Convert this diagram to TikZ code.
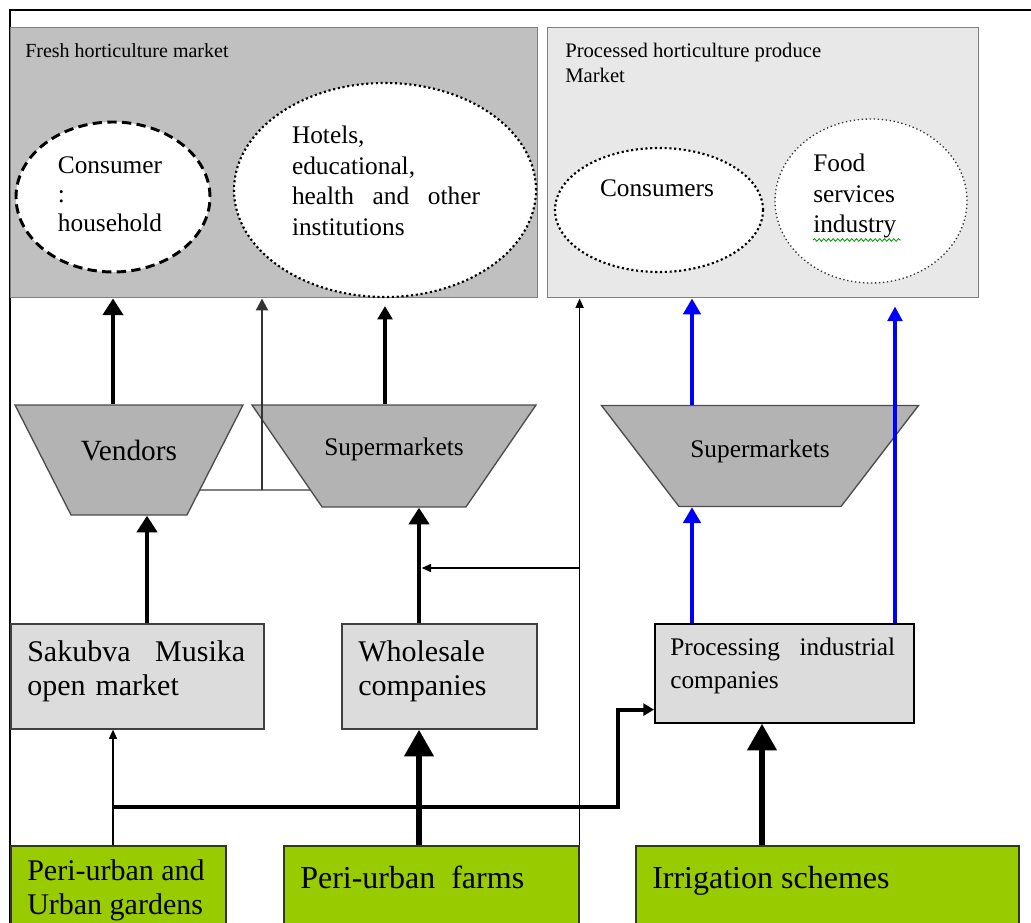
\documentclass[tikz,border=0pt]{standalone}
\usepackage{fontspec}
\setmainfont{Liberation Serif}
\usepackage{tikz}
\usetikzlibrary{arrows.meta,positioning,calc,shapes.geometric,decorations.pathmorphing,backgrounds}

\definecolor{freshgray}{HTML}{C0C0C0}
\definecolor{procgray}{HTML}{E8E8E8}
\definecolor{trapgray}{HTML}{B3B3B3}
\definecolor{boxgray}{HTML}{DCDCDC}
\definecolor{farmgreen}{HTML}{99CC00}

\tikzset{
  market/.style={rectangle, draw=gray, line width=1.1pt, anchor=north west, inner sep=0},
  txt/.style={inner sep=0, anchor=north west, align=left},
  outlet/.style={trapezium, draw=black!70, fill=trapgray, line width=1pt, shape border rotate=180,
                 trapezium stretches body, inner sep=0},
  box/.style={rectangle, draw=black!75, line width=1.2pt, fill=boxgray, anchor=north west, inner sep=0},
  src/.style={box, fill=farmgreen, draw=black!80},
  heavy/.style={line width=3.6pt, -{Triangle[length=12.5pt,width=15pt]}},
  huge/.style={line width=5pt, -{Triangle[length=20pt,width=21pt]}},
  medium/.style={line width=2.6pt, -{Triangle[length=10pt,width=11pt]}},
  joint/.style={black!80, line width=1.6pt, -{Triangle[length=9pt,width=9pt]}},
  light/.style={line width=1.1pt, -{Triangle[length=7pt,width=6pt]}},
  branch/.style={line width=3pt, -{Triangle[length=8pt,width=9pt]}},
  bluefat/.style={blue, line width=3.6pt, -{Triangle[length=12pt,width=13pt]}},
  bluethin/.style={blue, line width=2.6pt, -{Triangle[length=11pt,width=11pt]}},
}

\begin{document}
\begin{tikzpicture}[x=0.75pt, y=-0.75pt, font=\fontsize{19}{23}\selectfont]
  \clip (0,0) rectangle (1031,923);
  % frame
  \draw[line width=1.1pt] (10,923) -- (10,10) -- (1031,10);

  % the two markets
  \node[market, fill=freshgray, minimum width=395.25pt, minimum height=202.5pt] (fresh) at (10,27) {};
  \node[txt, font=\fontsize{15}{19}\selectfont] (freshlbl) at (25,43) {Fresh horticulture market};
  \node[market, fill=procgray, minimum width=323.25pt, minimum height=202.5pt] (pm) at (547,27) {};
  \node[txt, font=\fontsize{15.5}{19}\selectfont] (pmlbl) at (565,43) {Processed horticulture produce\\Market};

  % end users
  \node[ellipse, draw, fill=white, line width=2.2pt, dash pattern=on 7pt off 4pt,
        minimum width=145.5pt, minimum height=112.5pt, inner sep=0] (hh) at (113,197) {};
  \node[align=left, inner sep=0, font=\fontsize{19}{21.75}\selectfont] (hhtxt) at (110,194) {Consumer\\:\\household};
  \node[ellipse, draw, fill=white, line width=1.6pt, dotted,
        minimum width=226.5pt, minimum height=160.5pt, inner sep=0] (hotel) at (385,190) {};
  \node[txt, anchor=center, text width=141pt, font=\fontsize{19}{23}\selectfont] (hoteltxt) at (386,181)
    {Hotels,\\educational,\\health\hfill and\hfill other\\institutions};
  \node[ellipse, draw, fill=white, line width=1.6pt, dotted,
        minimum width=156pt, minimum height=93pt, inner sep=0] (cons) at (659,210) {};
  \node[inner sep=0] (constxt) at (657,188) {Consumers};
  \node[ellipse, draw=black!80, fill=white, line width=1pt, dotted,
        minimum width=144pt, minimum height=123pt, inner sep=0] (food) at (871,201) {};
  \node[txt, anchor=west, font=\fontsize{19}{23}\selectfont] (foodtxt) at (813,196) {Food\\services\\industry};
  \draw[green!60!black, line width=0.6pt, decorate, decoration={snake, amplitude=1pt, segment length=3.5pt}]
    (813,240) -- (901,240);

  % retail outlets (text height + depth give the full height, so the side angles hold)
  \node[outlet, trapezium left angle=63, trapezium right angle=63, minimum width=171pt,
        text height=41.85pt, text depth=40.65pt, font=\fontsize{22}{26}\selectfont] (vend) at (129,460) {Vendors};
  \node[outlet, trapezium left angle=55.5, trapezium right angle=55.5, minimum width=213pt,
        text height=37.95pt, text depth=38.55pt] (sup1) at (394,456) {Supermarkets};
  \node[outlet, trapezium left angle=52.5, trapezium right angle=52.5, minimum width=237.75pt,
        text height=39.1pt, text depth=36.65pt] (sup2) at (760,456) {Supermarkets};

  % markets and companies
  \node[box, minimum width=189.75pt, minimum height=78.75pt] (sak) at (10,623) {};
  \node[txt, text width=163.5pt, font=\fontsize{22.5}{26}\selectfont] (saktxt) at (27,640) {Sakubva\hfill Musika\\open market};
  \node[box, minimum width=146.25pt, minimum height=78.75pt] (ws) at (341,623) {};
  \node[txt, font=\fontsize{22.5}{26}\selectfont] (wstxt) at (358,640) {Wholesale\\companies};
  \node[box, draw=black, minimum width=194.25pt, minimum height=74.25pt] (proc) at (654,623) {};
  \node[txt, text width=168.75pt, font=\fontsize{19}{24.75}\selectfont] (proctxt) at (670,638) {Processing\hfill industrial\\companies};

  % producers
  \node[src, minimum width=161.25pt, minimum height=75pt] (gard) at (10,845) {};
  \node[txt, font=\fontsize{22.5}{26}\selectfont] (gardtxt) at (27,859) {Peri-urban and\\Urban gardens};
  \node[src, minimum width=221.25pt, minimum height=75pt] (farm) at (283,845) {};
  \node[txt, font=\fontsize{24}{28}\selectfont] (farmtxt) at (300,866) {Peri-urban\ \ farms};
  \node[src, minimum width=287.25pt, minimum height=75pt] (irr) at (635,845) {};
  \node[txt, font=\fontsize{24}{28}\selectfont] (irrtxt) at (652,866) {Irrigation schemes};

  % helper columns and rows
  \coordinate (jn) at (262,490);
  \coordinate (sc) at (147,0);
  \coordinate (wc) at (419,0);
  \coordinate (bl) at (692,0);
  \coordinate (br) at (895,0);
  \coordinate (ic) at (762,0);
  \coordinate (lvl) at (0,568);
  \coordinate (gb) at (113,807);
  \coordinate (pin) at ($(proc.south west)+(0,-14)$);

  % link between vendors and supermarkets
  \begin{pgfonlayer}{background}
    \draw[gray, line width=1.5pt] (vend.center |- jn) -- (sup1.center |- jn);
  \end{pgfonlayer}

  % fresh produce flows
  \draw[heavy] (vend.north -| hh) -- (hh |- fresh.south);
  \draw[joint] (jn) -- (jn |- fresh.south);
  \draw[medium, shorten >=6pt] (sup1.north -| hotel) -- (hotel.south);
  \draw[heavy] (sak.north -| sc) -- (sc |- vend.south);
  \draw[heavy] (ws.north -| wc) -- (wc |- sup1.south);
  \draw[light] (gard.north -| hh) -- (hh |- sak.south);
  \draw[huge] (farm.north -| wc) -- (wc |- ws.south);
  \draw[light] (farm.north east) -- (farm.north east |- pm.south);
  \draw[light, shorten >=2pt] (farm.north east |- lvl) -- (wc |- lvl);

  % processed produce flows
  \draw[branch] (gb) -| ($(pin)+(-36,0)$) -- (pin);
  \draw[huge] (irr.north -| ic) -- (ic |- proc.south);
  \draw[bluefat] (proc.north -| bl) -- (bl |- sup2.south);
  \draw[bluefat] (sup2.north -| bl) -- (bl |- pm.south);
  \draw[bluethin, shorten >=6pt] (proc.north -| br) -- (br |- pm.south);
\end{tikzpicture}
\end{document}
